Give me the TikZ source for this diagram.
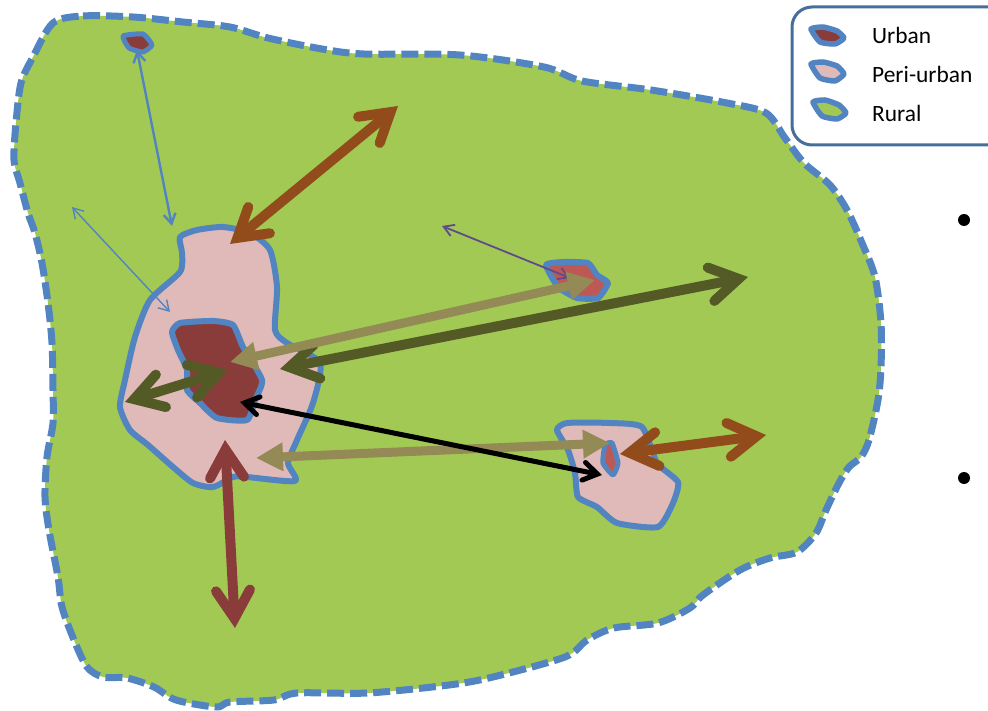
\documentclass[tikz,border=0pt]{standalone}
\usepackage{fontspec}
\setmainfont{Carlito}
\usetikzlibrary{arrows.meta}
\definecolor{rural}{RGB}{162,201,84}
\definecolor{peri}{RGB}{224,186,184}
\definecolor{urbanc}{RGB}{138,60,58}
\definecolor{urbanl}{RGB}{190,88,84}
\definecolor{edgeb}{RGB}{82,132,194}
\definecolor{legb}{RGB}{70,110,155}
\definecolor{brownc}{RGB}{146,76,28}
\definecolor{beige}{RGB}{148,138,86}
\definecolor{olive}{RGB}{84,90,38}
\definecolor{purp}{RGB}{95,75,139}
\tikzset{
  x=1pt,y=-1pt,
  ruralarea/.style={fill=rural,draw=edgeb,line width=7pt,dash pattern=on 17pt off 6pt,line join=round},
  periarea/.style={fill=peri,draw=edgeb,line width=6pt,line join=round},
  urbanarea/.style={fill=urbanc,draw=edgeb,line width=6pt,line join=round},
  townarea/.style={fill=urbanl,draw=edgeb,line width=6pt,line join=round},
  icon/.style={line width=5.5pt},
  thinarrow/.style={edgeb,{Straight Barb[length=10pt,width=12pt]}-{Straight Barb[length=10pt,width=12pt]}},
  fatbarb/.tip={Straight Barb[line cap=round,length=28pt,width=34pt]},
  smallbarb/.tip={Straight Barb[line cap=round,length=14pt,width=18pt]},
  fatarrow/.style={line width=10pt,{fatbarb}-{fatbarb}},
  beigearrow/.style={beige,line width=9pt,{Triangle[length=27pt,width=27pt]}-{Triangle[length=27pt,width=27pt]}},
  legendtext/.style={anchor=west,font=\fontsize{23.4}{26}\selectfont,text=black,inner sep=0pt},
  bulletdot/.style={circle,fill=black,inner sep=0pt,minimum size=12pt}
}
\begin{document}
\begin{tikzpicture}
\useasboundingbox (0,0) rectangle (988,711);
\clip (0,0) rectangle (988,711);
% rural
\draw[ruralarea] plot[smooth cycle,tension=.5] coordinates {
(53,23)(83,16)(133,17)(183,22)(230,27)(268,38)(322,49)(364,54)(460,55)(544,67)(582,81)(651,90)(727,103)(766,113)(785,138)(804,163)(830,185)(847,210)(862,243)(875,277)(881,323)(881,367)(878,400)(869,440)(861,457)(849,467)(839,483)(826,510)(816,533)(797,552)(770,558)(740,570)(703,595)(690,608)(658,623)(614,628)(587,640)(565,657)(493,677)(449,685)(368,693)(297,693)(274,700)(230,702)(216,707)(176,700)(154,687)(127,678)(103,677)(87,667)(74,640)(62,607)(58,577)(49,530)(45,497)(47,457)(53,423)(53,390)(52,343)(48,303)(42,263)(35,233)(28,213)(20,183)(14,160)(16,123)(21,83)(33,57)};
% peri main
\draw[periarea] plot[smooth cycle,tension=.4] coordinates {
(180,237)(197,230)(223,227)(250,233)(270,250)(277,287)(275,330)(287,343)(320,363)(313,403)(297,440)(288,463)(295,481)(247,477)(233,477)(213,487)(193,483)(173,467)(148,445)(130,430)(120,407)(125,380)(135,337)(150,300)(180,272)(182,253)};
\draw[urbanarea] plot[smooth cycle,tension=.35] coordinates {
(172,332)(180,323)(213,321)(233,325)(243,347)(262,380)(255,400)(247,420)(217,418)(200,403)(187,390)(187,370)(178,350)};
% small settlements
\draw[urbanarea,line width=5pt] plot[smooth cycle,tension=.3] coordinates {(123,36)(143,34)(152,45)(143,52)(129,48)};
\draw[townarea] plot[smooth cycle,tension=.3] coordinates {(546,265)(563,262)(588,263)(597,275)(608,283)(598,298)(577,298)(558,287)};
\draw[periarea] plot[smooth cycle,tension=.35] coordinates {(557,430)(567,423)(610,423)(642,427)(657,463)(678,482)(673,503)(658,527)(617,523)(597,507)(578,497)(575,473)(568,450)};
\draw[townarea,line width=5pt] plot[smooth cycle,tension=.3] coordinates {(605,445)(612,443)(618,463)(613,475)(603,463)};
% connector ends
\coordinate (a1) at (137,50); \coordinate (a2) at (172,226);
\coordinate (b1) at (72,207); \coordinate (b2) at (170,312);
\coordinate (c1) at (442,226); \coordinate (c2) at (570,278);
\coordinate (d1) at (230,244); \coordinate (d2) at (398,106);
\coordinate (e1) at (230,362); \coordinate (e2) at (595,280);
\coordinate (f1) at (280,369); \coordinate (f2) at (748,277);
\coordinate (g1) at (125,402); \coordinate (g2) at (228,370);
\coordinate (h1) at (240,402); \coordinate (h2) at (602,475);
\coordinate (i1) at (256,458); \coordinate (i2) at (610,443);
\coordinate (j1) at (620,454); \coordinate (j2) at (766,435);
\coordinate (k1) at (225,440); \coordinate (k2) at (235,628);
\draw[thinarrow,line width=2.4pt] (a1) -- (a2);
\draw[thinarrow,line width=1.4pt] (b1) -- (b2);
\draw[thinarrow,purp,line width=1.8pt] (c1) -- (c2);
\draw[fatarrow,brownc] (d1) -- (d2);
\draw[fatarrow,olive] (f1) -- (f2);
\draw[beigearrow] (e1) -- (e2);
\draw[fatarrow,olive] (g1) -- (g2);
\draw[beigearrow] (i1) -- (i2);
\draw[black,line width=5pt,{smallbarb}-{smallbarb}] (h1) -- (h2);
\draw[fatarrow,brownc] (j1) -- (j2);
\draw[fatarrow,urbanc] (k1) -- (k2);
% legend
\draw[fill=white,draw=legb,line width=3pt,rounded corners=20pt] (792,7) rectangle (1008,145);
\draw[urbanarea,icon] plot[smooth cycle,tension=.3] coordinates {(811,29)(823,27)(837,31)(844,38)(835,44)(820,42)};
\draw[periarea,icon] plot[smooth cycle,tension=.3] coordinates {(811,64)(823,62)(837,66)(844,74)(835,81)(820,78)};
\draw[fill=rural,draw=edgeb,icon,line join=round] plot[smooth cycle,tension=.3] coordinates {(813,102)(825,100)(839,105)(846,113)(837,119)(822,116)};
\node[legendtext] (lu) at (872,35) {Urban};
\node[legendtext] (lp) at (872,74) {Peri-urban};
\node[legendtext] (lr) at (872,113) {Rural};
\node[bulletdot] (b1dot) at (964,220) {};
\node[bulletdot] (b2dot) at (964,478) {};
\end{tikzpicture}
\end{document}
